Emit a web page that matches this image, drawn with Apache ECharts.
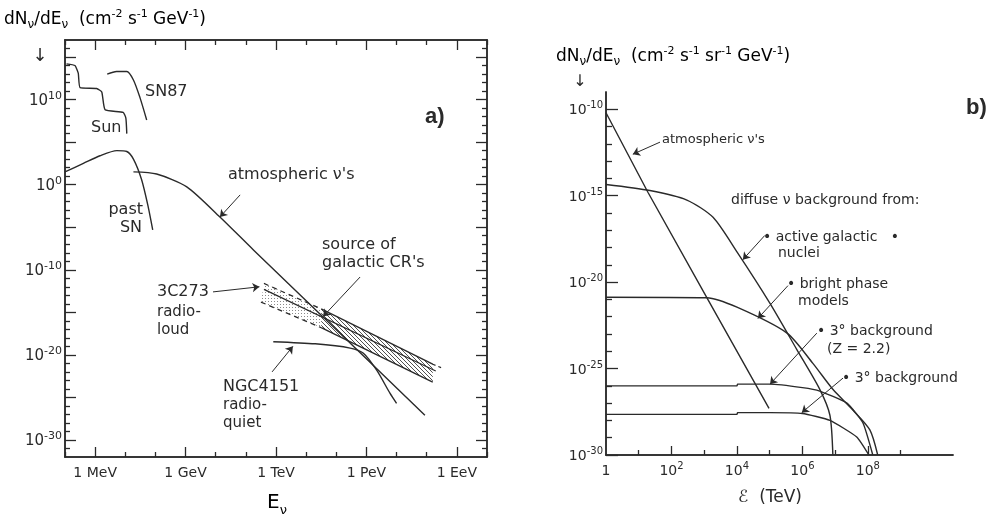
<!DOCTYPE html>
<html>
<head>
<meta charset="utf-8">
<title>Neutrino fluxes</title>
<script src="https://cdn.jsdelivr.net/npm/echarts@6/dist/echarts.min.js"></script>
<style>
  html, body { margin: 0; padding: 0; background: #fff; }
  #main { width: 991px; height: 525px; }
</style>
</head>
<body>
<div id="main"></div>
<script>
// panel a: x = log10(E / eV), y = log10(dN/dE)
const energyTicksA = [6, 9, 12, 15, 18];
const energyNamesA = ['1 MeV', '1 GeV', '1 TeV', '1 PeV', '1 EeV'];
const minorTicksXA = [5, 7, 8, 10, 11, 13, 14, 16, 17, 19];
const fluxLabelsA = [-30, -20, -10, 0, 10];
const fluxLongTicksA = [-30, -25, -20, -15, -10, -5, 0, 5, 10, 15];
const fluxShortTicksA = [-31, -29, -28, -27, -26, -24, -23, -22, -21, -19, -18, -17, -16, -14, -13, -12, -11,
  -9, -8, -7, -6, -4, -3, -2, -1, 1, 2, 3, 4, 6, 7, 8, 9, 11, 12, 13, 14, 16];

const sunA = [[5.05, 14.2], [5.33, 14.0], [5.44, 13.1], [5.5, 11.4], [6.05, 11.3], [6.22, 10.9],
  [6.33, 8.8], [6.93, 8.5], [7.02, 7.8], [7.05, 6.0]];
const sn87A = [[6.4, 13.0], [6.71, 13.3], [7.05, 13.3], [7.27, 12.3], [7.49, 10.2], [7.71, 7.6]];
const pastSnA = [[5.0, 1.5], [5.61, 2.5], [6.16, 3.4], [6.72, 4.0], [7.05, 3.9], [7.27, 3.0],
  [7.54, 0.6], [7.76, -2.6], [7.91, -5.3]];
const atmosA = [[7.27, 1.5], [8.04, 1.25], [9.04, -0.25], [10.14, -3.8], [11.26, -7.7],
  [14.57, -19.0], [16.94, -27.1]];
const ngcA = [[11.91, -18.45], [13.3, -18.7], [14.46, -19.2], [14.9, -19.8], [15.34, -21.8],
  [15.78, -24.5], [16.0, -25.7]];
const band3cUpper = [[11.6, -11.6], [13.5, -14.6]];
const band3cLower = [[11.5, -13.8], [13.5, -16.8]];
const bandCrUpper = [[13.5, -14.6], [17.2, -21.1]];
const bandCrLower = [[13.5, -16.8], [17.2, -23.2]];
const bandMid = [[11.6, -12.3], [17.3, -21.9]];
const bandEnds = [[17.2, -21.1], [17.55, -21.6]];

// panel b: x = log10(E / TeV)
const energyLabelsB = [0, 2, 4, 6, 8];
const energyLongB = [2, 4, 6, 8];
const energyShortB = [1, 3, 5, 7, 9];
const fluxLabelsB = [-30, -25, -20, -15, -10];
const fluxShortB = [-29, -28, -27, -26, -24, -23, -22, -21, -19, -18, -17, -16, -14, -13, -12, -11];

const atmosB = [[0, -10.2], [1.28, -14.8], [3.08, -20.9], [4.98, -27.3]];
const agnB = [[0, -14.35], [1.34, -14.7], [2.47, -15.25], [3.27, -16.25], [4.0, -18.25],
  [5.0, -21.2], [5.83, -23.9], [6.53, -26.2], [6.84, -27.7], [6.93, -30]];
const brightB = [[0, -20.87], [3.08, -20.9], [4.0, -21.45], [5.53, -22.95],
  [6.32, -24.7], [6.93, -26.2], [7.54, -27.4], [8.06, -28.55], [8.3, -30]];
const bg22B = [[0, -26.0], [4.0, -26.0], [4.02, -25.9], [5.0, -25.9], [6.0, -26.1], [6.53, -26.3],
  [7.36, -27.0], [7.85, -28.15], [8.15, -30]];
const bgB = [[0, -27.65], [4.0, -27.65], [4.02, -27.55], [5.0, -27.55], [6.0, -27.6], [6.84, -28.0],
  [7.66, -28.96], [8.03, -30]];

// annotation pointers [from, to] in data units
const pointersA = [
  [[10.81, -1.2], [10.14, -3.8]],
  [[14.79, -10.85], [13.56, -15.5]],
  [[9.91, -12.6], [11.45, -12.0]],
  [[11.87, -22.0], [12.56, -19.0]]
];
const pointersB = [
  [[1.65, -11.9], [0.82, -12.6]],
  [[4.85, -17.3], [4.18, -18.7]],
  [[5.56, -20.2], [4.64, -22.1]],
  [[6.44, -22.95], [5.01, -25.9]],
  [[7.24, -25.55], [5.98, -27.55]]
];

const ink = '#2a2a2a';
const font = 'DejaVu Sans';

function makePattern(kind) {
  const c = document.createElement('canvas');
  const g = c.getContext('2d');
  if (kind === 'hatch') {
    c.width = 4; c.height = 4;
    g.strokeStyle = '#505050';
    g.lineWidth = 1;
    g.beginPath();
    g.moveTo(-1, -1); g.lineTo(5, 5);
    g.moveTo(-1, 3); g.lineTo(1, 5);
    g.moveTo(3, -1); g.lineTo(5, 1);
    g.stroke();
  } else {
    c.width = 3; c.height = 3;
    g.fillStyle = '#8a8a8a';
    g.fillRect(1, 1, 1, 1);
  }
  return { image: c, repeat: 'repeat' };
}

const powLabel = v => '{b|10}{s|' + v + '}';
const labelRich = (b, s) => ({
  b: { fontSize: b, fontFamily: font, color: ink, lineHeight: b + 3, verticalAlign: 'bottom' },
  s: { fontSize: s, fontFamily: font, color: ink, lineHeight: s + 1, verticalAlign: 'top' }
});

function axis(grid, pos, min, max, ticks, len, label) {
  const ax = {
    type: 'value', gridIndex: grid, position: pos, min: min, max: max, interval: 1,
    axisLine: { show: true, onZero: false, lineStyle: { color: ink, width: 1.5 } },
    axisTick: { show: true, inside: true, length: len, customValues: ticks, lineStyle: { color: ink, width: 1.3 } },
    axisLabel: { show: false },
    splitLine: { show: false }
  };
  if (label) ax.axisLabel = Object.assign({ show: true, color: ink, fontFamily: font }, label);
  return ax;
}

function curve(data, xi, yi, extra) {
  return Object.assign({
    type: 'line', data: data, xAxisIndex: xi, yAxisIndex: yi,
    symbol: 'none', smooth: 0.25, silent: true, z: 3,
    lineStyle: { color: ink, width: 1.4 }
  }, extra || {});
}

function pointers(list, xi, yi) {
  return {
    type: 'line', data: [], xAxisIndex: xi, yAxisIndex: yi, silent: true,
    markLine: {
      silent: true, symbol: ['none', 'arrow'], symbolSize: 7, animation: false,
      label: { show: false },
      lineStyle: { color: ink, width: 1, type: 'solid' },
      emphasis: { disabled: true },
      data: list.map(p => [{ coord: p[0] }, { coord: p[1] }])
    }
  };
}

const richTitle = {
  t: { fontSize: 17, fontFamily: font, color: ink, lineHeight: 22, verticalAlign: 'middle' },
  sub: { fontSize: 12, fontFamily: font, color: ink, lineHeight: 22, verticalAlign: 'bottom' },
  sup: { fontSize: 11, fontFamily: font, color: ink, lineHeight: 12, verticalAlign: 'top' }
};

function txt(x, y, text, size, align, extra) {
  return {
    type: 'text', x: x, y: y, silent: true,
    style: Object.assign({
      text: text, fill: ink, font: size + 'px "' + font + '"',
      textAlign: align || 'left', textVerticalAlign: 'middle', lineHeight: size + 3
    }, extra || {})
  };
}

const hatch = makePattern('hatch');
const stipple = makePattern('dots');

const chart = echarts.init(document.getElementById('main'), null, { renderer: 'canvas' });

const option = {
  animation: false,
  backgroundColor: '#fff',
  grid: [
    { left: 65, right: 504, top: 40, bottom: 68 },
    { left: 606, right: 38, top: 92, bottom: 70 }
  ],
  xAxis: [
    axis(0, 'bottom', 5, 19, minorTicksXA, 5),
    axis(0, 'bottom', 5, 19, energyTicksA, 10, {
      customValues: energyTicksA, fontSize: 14, margin: 9,
      formatter: v => energyNamesA[energyTicksA.indexOf(v)]
    }),
    axis(0, 'top', 5, 19, minorTicksXA, 5),
    axis(0, 'top', 5, 19, energyTicksA, 10),
    axis(1, 'bottom', 0, 10.6, energyShortB, 5),
    axis(1, 'bottom', 0, 10.6, energyLongB, 9, {
      customValues: energyLabelsB, margin: 6,
      formatter: v => (v === 0 ? '{b|1}' : powLabel(v)), rich: labelRich(14, 10)
    })
  ],
  yAxis: [
    axis(0, 'left', -32, 17, fluxShortTicksA, 5),
    axis(0, 'left', -32, 17, fluxLongTicksA, 11, {
      customValues: fluxLabelsA, margin: 3, formatter: powLabel, rich: labelRich(15, 11)
    }),
    axis(0, 'right', -32, 17, fluxShortTicksA, 5),
    axis(0, 'right', -32, 17, fluxLongTicksA, 11),
    axis(1, 'left', -30, -9, fluxShortB, 6),
    axis(1, 'left', -30, -9, fluxLabelsB, 12, {
      customValues: fluxLabelsB, margin: 3, formatter: powLabel, rich: labelRich(14, 10)
    })
  ],
  series: [
    {
      type: 'custom', xAxisIndex: 0, yAxisIndex: 0, silent: true, z: 2,
      data: [[14, -17]],
      renderItem: (params, api) => {
        const poly = (up, lo, fill) => ({
          type: 'polygon',
          shape: { points: up.concat(lo.slice().reverse()).map(p => api.coord(p)) },
          style: { fill: fill, stroke: null }
        });
        return { type: 'group', children: [poly(band3cUpper, band3cLower, stipple), poly(bandCrUpper, bandCrLower, hatch)] };
      }
    },
    curve(sunA, 0, 0, { smooth: 0.15 }),
    curve(sn87A, 0, 0),
    curve(pastSnA, 0, 0),
    curve(atmosA, 0, 0),
    curve(ngcA, 0, 0),
    curve(band3cUpper, 0, 0, { smooth: false, lineStyle: { color: ink, width: 1.2, type: [5, 4] } }),
    curve(band3cLower, 0, 0, { smooth: false, lineStyle: { color: ink, width: 1.2, type: [5, 4] } }),
    curve(bandCrUpper, 0, 0, { smooth: false }),
    curve(bandCrLower, 0, 0, { smooth: false }),
    curve(bandMid, 0, 0, { smooth: false, lineStyle: { color: ink, width: 1.2 } }),
    curve(bandEnds, 0, 0, { smooth: false, lineStyle: { color: ink, width: 1.2, type: [3, 3] } }),
    pointers(pointersA, 0, 0),
    curve(atmosB, 4, 4, { smooth: false }),
    curve(agnB, 4, 4),
    curve(brightB, 4, 4),
    curve(bg22B, 4, 4, { smooth: 0.15 }),
    curve(bgB, 4, 4, { smooth: 0.15 }),
    pointers(pointersB, 4, 4)
  ],
  graphic: [
    {
      type: 'text', x: 4, y: 20, silent: true,
      style: {
        text: '{t|dN}{sub|ν}{t|/dE}{sub|ν}{t|  (cm}{sup|-2}{t| s}{sup|-1}{t| GeV}{sup|-1}{t|)}',
        rich: richTitle, textVerticalAlign: 'middle'
      }
    },
    txt(40, 56, '↓', 18, 'center'),
    {
      type: 'text', x: 556, y: 57, silent: true,
      style: {
        text: '{t|dN}{sub|ν}{t|/dE}{sub|ν}{t|  (cm}{sup|-2}{t| s}{sup|-1}{t| sr}{sup|-1}{t| GeV}{sup|-1}{t|)}',
        rich: richTitle, textVerticalAlign: 'middle'
      }
    },
    txt(580, 82, '↓', 16, 'center'),
    txt(145, 92, 'SN87', 16),
    txt(91, 128, 'Sun', 16),
    txt(425, 117, 'a)', 22, 'left', { font: 'bold 22px "Liberation Sans"' }),
    txt(228, 175, 'atmospheric ν\'s', 16),
    txt(143, 210, 'past', 16, 'right'),
    txt(142, 228, 'SN', 16, 'right'),
    txt(322, 245, 'source of', 16),
    txt(322, 263, 'galactic CR\'s', 16),
    txt(157, 292, '3C273', 16),
    txt(157, 312, 'radio-', 15),
    txt(157, 330, 'loud', 15),
    txt(223, 387, 'NGC4151', 16),
    txt(223, 405, 'radio-', 15),
    txt(223, 423, 'quiet', 15),
    {
      type: 'text', x: 277, y: 503, silent: true,
      style: {
        text: '{t|E}{sub|ν}',
        rich: {
          t: { fontSize: 20, fontFamily: font, color: ink, lineHeight: 28, verticalAlign: 'middle' },
          sub: { fontSize: 13, fontFamily: font, color: ink, lineHeight: 28, verticalAlign: 'bottom' }
        },
        textAlign: 'center', textVerticalAlign: 'middle'
      }
    },
    txt(966, 108, 'b)', 22, 'left', { font: 'bold 22px "Liberation Sans"' }),
    txt(662, 140, 'atmospheric ν\'s', 13),
    txt(731, 200, 'diffuse ν background from:', 14),
    txt(763, 237, '• active galactic   •', 14),
    txt(778, 253, 'nuclei', 14),
    txt(787, 284, '• bright phase', 14),
    txt(798, 301, 'models', 14),
    txt(817, 331, '• 3° background', 14),
    txt(827, 349, '(Z = 2.2)', 14),
    txt(842, 378, '• 3° background', 14),
    txt(770, 498, 'ℰ  (TeV)', 17, 'center')
  ]
};

chart.setOption(option);
</script>
</body>
</html>
